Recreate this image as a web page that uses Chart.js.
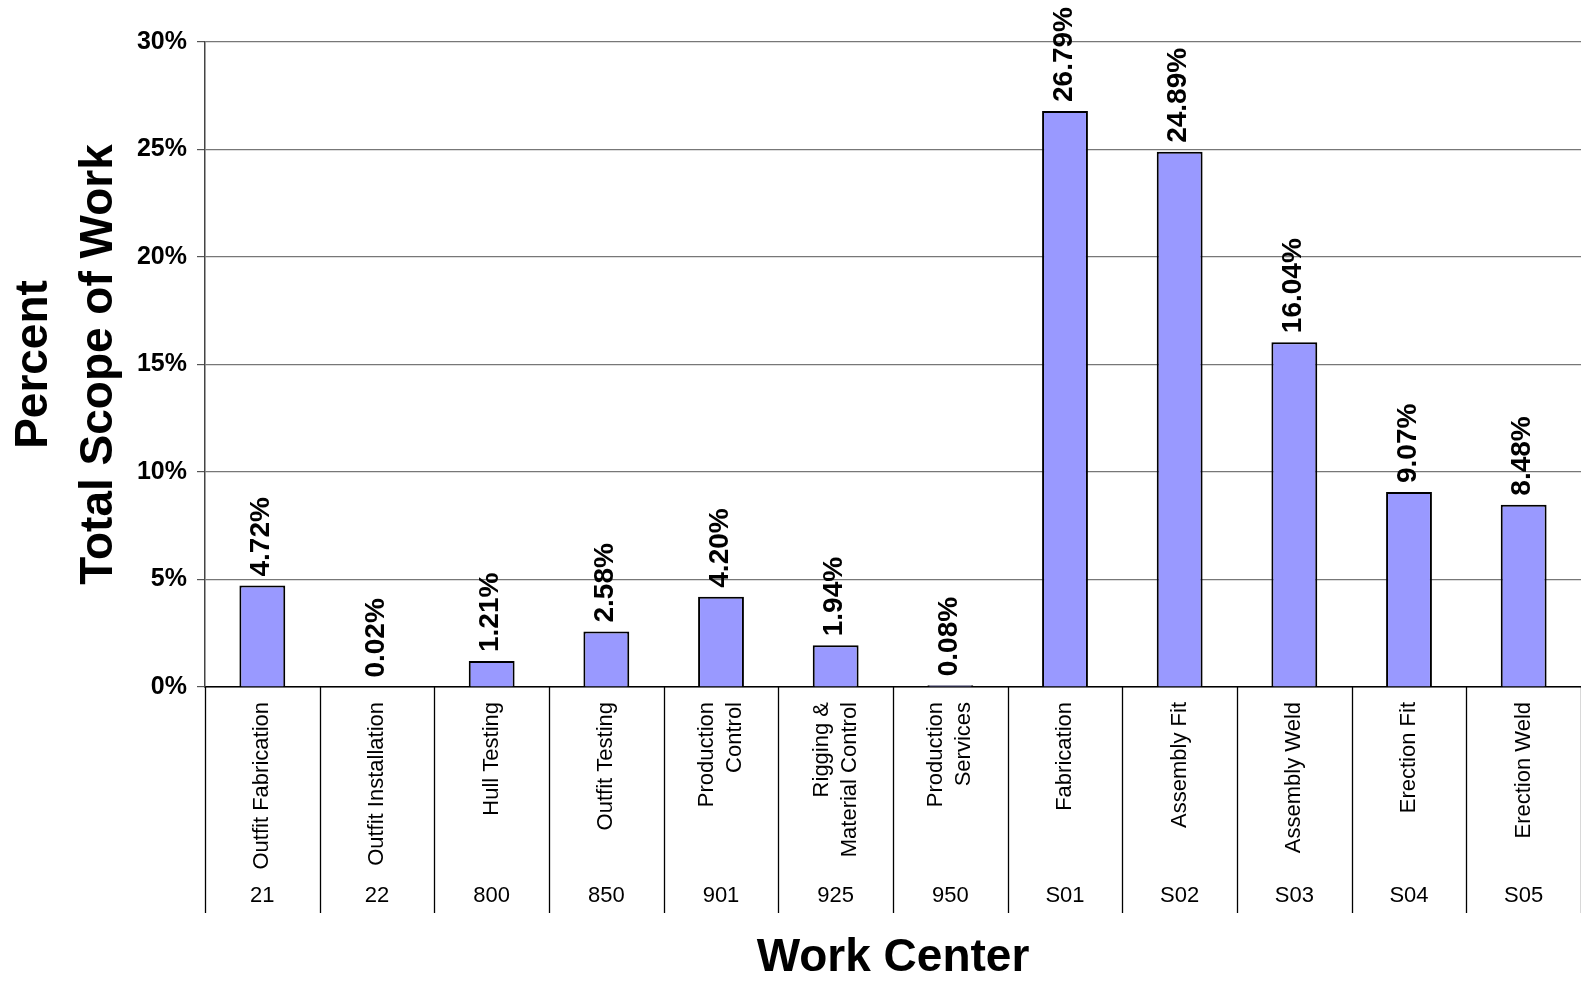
<!DOCTYPE html>
<html>
<head>
<meta charset="utf-8">
<script src="https://cdn.jsdelivr.net/npm/chart.js@4"></script>
<style>
  html, body { margin: 0; padding: 0; background: #fff; overflow: hidden; }
  canvas { display: block; }
</style>
</head>
<body>
<canvas id="chart" width="1581" height="981"></canvas>
<script>
const codes = ["21", "22", "800", "850", "901", "925", "950", "S01", "S02", "S03", "S04", "S05"];
const names = [
  ["Outfit Fabrication"], ["Outfit Installation"], ["Hull Testing"], ["Outfit Testing"],
  ["Production", "Control"], ["Rigging &", "Material Control"], ["Production", "Services"],
  ["Fabrication"], ["Assembly Fit"], ["Assembly Weld"], ["Erection Fit"], ["Erection Weld"]
];
const percents = [4.72, 0.02, 1.21, 2.58, 4.20, 1.94, 0.08, 26.79, 24.89, 16.04, 9.07, 8.48];
const yTicks = [0, 5, 10, 15, 20, 25, 30];

const FONT = "'Liberation Sans', Arial, Helvetica, sans-serif";
Chart.defaults.font.family = FONT;
Chart.defaults.color = "#000";

// value labels above bars + the two-level category axis below the plot
const labelPlugin = {
  id: "workCenterLabels",
  afterDatasetsDraw(chart) {
    const ctx = chart.ctx;
    const meta = chart.getDatasetMeta(0);
    ctx.save();
    ctx.fillStyle = "#000";
    ctx.font = "bold 28px " + FONT;
    ctx.textAlign = "left";
    ctx.textBaseline = "middle";
    meta.data.forEach((bar, i) => {
      ctx.save();
      ctx.translate(bar.x - 1, bar.y - 9);
      ctx.rotate(-Math.PI / 2);
      ctx.fillText(percents[i].toFixed(2) + "%", 0, 0);
      ctx.restore();
    });
    ctx.restore();
  },
  afterDraw(chart) {
    const ctx = chart.ctx;
    const x = chart.scales.x;
    const area = chart.chartArea;
    const step = x.getPixelForValue(1) - x.getPixelForValue(0);
    ctx.save();
    ctx.strokeStyle = "#000";
    ctx.lineWidth = 1.3;
    for (let i = 0; i <= codes.length; i++) {
      const px = Math.round(x.getPixelForValue(i) - step / 2) + 0.5;
      ctx.beginPath();
      ctx.moveTo(px, area.bottom);
      ctx.lineTo(px, area.bottom + 226);
      ctx.stroke();
    }
    ctx.fillStyle = "#000";
    ctx.font = "22px " + FONT;
    codes.forEach((code, i) => {
      const cx = x.getPixelForValue(i);
      const lines = names[i];
      ctx.textAlign = "right";
      ctx.textBaseline = "middle";
      lines.forEach((line, j) => {
        const off = (j - (lines.length - 1) / 2) * 28;
        ctx.save();
        ctx.translate(cx + off, area.bottom + 15);
        ctx.rotate(-Math.PI / 2);
        ctx.fillText(line, 0, 0);
        ctx.restore();
      });
      ctx.textAlign = "center";
      ctx.fillText(code, cx, area.bottom + 209);
    });
    ctx.restore();
  }
};

new Chart(document.getElementById("chart"), {
  type: "bar",
  data: {
    labels: codes,
    datasets: [{
      data: percents,
      backgroundColor: "#9999ff",
      borderColor: "#000",
      borderWidth: 2,
      borderSkipped: "bottom",
      barPercentage: 0.4,
      categoryPercentage: 1
    }]
  },
  options: {
    responsive: false,
    animation: false,
    devicePixelRatio: 1,
    layout: { padding: { top: 42, left: 0, right: 0, bottom: 0 } },
    plugins: {
      legend: { display: false },
      tooltip: { enabled: false }
    },
    scales: {
      x: {
        grid: { display: false, drawTicks: false },
        border: { display: true, color: "#000", width: 1.5 },
        ticks: { display: false },
        title: {
          display: true,
          text: "Work Center",
          font: { size: 46, weight: "bold", lineHeight: 1 },
          padding: { top: 248, bottom: 0 }
        }
      },
      y: {
        min: yTicks[0],
        max: yTicks[yTicks.length - 1],
        afterBuildTicks(scale) {
          scale.ticks = yTicks.map(v => ({ value: v }));
        },
        afterFit(scale) {
          scale.width = 205;
        },
        grid: { color: "#777", lineWidth: 1.2, tickLength: 8, tickColor: "#555" },
        border: { display: true, color: "#444", width: 1.5 },
        ticks: {
          padding: 10,
          font: { size: 25, weight: "bold" },
          callback: v => v + "%"
        },
        title: {
          display: true,
          text: ["Percent", "Total Scope of Work"],
          font: { size: 46, weight: "bold", lineHeight: 1.41 },
          padding: { top: 2, bottom: 7 }
        }
      }
    }
  },
  plugins: [labelPlugin]
});
</script>
</body>
</html>
